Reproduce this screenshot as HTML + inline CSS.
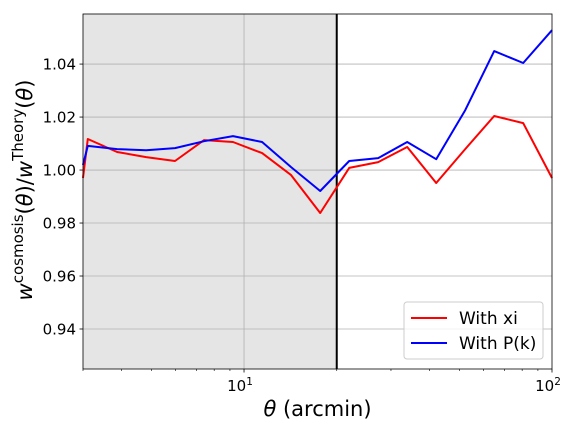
<!DOCTYPE html>
<html><head><meta charset="utf-8"><style>
body{margin:0;background:#fff}
svg text{font-family:"DejaVu Sans","Liberation Sans",sans-serif}
</style></head><body>
<svg id="chart" width="576" height="432" viewBox="0 0 576 432" xmlns="http://www.w3.org/2000/svg">
<g id="plot"></g>
</svg>
<script>
const thetas=[3.0,3.11,3.87,4.81,5.97,7.42,9.21,11.45,14.22,17.67,21.95,27.26,33.86,42.06,52.25,64.9,80.6,100];
const withXi=[0.997,1.0117,1.0068,1.0049,1.0034,1.0113,1.0106,1.0064,0.9981,0.9838,1.0008,1.003,1.0087,0.9951,1.0079,1.0204,1.0177,0.997];
const withPk=[1.0019,1.0091,1.0079,1.0075,1.0083,1.0109,1.0128,1.0106,1.0011,0.9921,1.0034,1.0045,1.0106,1.0041,1.0226,1.0449,1.0404,1.0528];
const yTicks=[0.94,0.96,0.98,1.00,1.02,1.04];
const yTickLabels=["0.94","0.96","0.98","1.00","1.02","1.04"];
const xMajor=[10,100];
const xMinor=[3,4,5,6,7,8,9,20,30,40,50,60,70,80,90];
const cutTheta=20;

const L=83,R=552,T=14,B=369;
const xmin=3,xmax=100,ymin=0.9249,ymax=1.0589;
const X=v=>L+(Math.log10(v)-Math.log10(xmin))/(Math.log10(xmax)-Math.log10(xmin))*(R-L);
const Y=v=>B-(v-ymin)/(ymax-ymin)*(B-T);
const NS="http://www.w3.org/2000/svg";
const g=document.getElementById('plot');
function mk(tag,attrs,parent){const e=document.createElementNS(NS,tag);for(const k in attrs)e.setAttribute(k,attrs[k]);(parent||g).appendChild(e);return e;}

const shade=mk('rect',{x:L,y:T,width:X(cutTheta)-L,height:B-T,fill:'#e5e5e5'});



yTicks.forEach((v,i)=>{
 const gl=mk('line',{x1:L,x2:R,y1:Y(v),y2:Y(v),stroke:'#b0b0b0','stroke-width':0.8});
 
 
 mk('line',{x1:L-3.5,x2:L,y1:Y(v),y2:Y(v),stroke:'#000','stroke-width':0.8});
 const t=mk('text',{x:L-7,y:Y(v)+5.5,'text-anchor':'end','font-size':15});
 t.textContent=yTickLabels[i];
 
 
});
xMajor.forEach(v=>{
 if(v<xmax){const gl=mk('line',{x1:X(v),x2:X(v),y1:T,y2:B,stroke:'#b0b0b0','stroke-width':0.8});
 
 }
 mk('line',{x1:X(v),x2:X(v),y1:B,y2:B+3.5,stroke:'#000','stroke-width':0.8});
 const t=mk('text',{x:X(v)-4,y:B+22,'text-anchor':'middle','font-size':15});
 t.innerHTML='10<tspan dy="-6" font-size="10.5">'+Math.round(Math.log10(v))+'</tspan>';
 
 
});
xMinor.forEach(v=>{mk('line',{x1:X(v),x2:X(v),y1:B,y2:B+2,stroke:'#000','stroke-width':0.6});});

const cut=mk('line',{x1:X(cutTheta),x2:X(cutTheta),y1:T,y2:B,stroke:'#000','stroke-width':2});



function series(vals,color,name){
 const d=thetas.map((t,i)=>(i?'L':'M')+X(t).toFixed(1)+','+Y(vals[i]).toFixed(1)).join('');
 const p=mk('path',{d:d,fill:'none',stroke:color,'stroke-width':2,'stroke-linejoin':'round'});
 
 
}
series(withXi,'#ff0000','line-with-xi');
series(withPk,'#0000ff','line-with-pk');

const frame=mk('rect',{x:L,y:T,width:R-L,height:B-T,fill:'none',stroke:'#000','stroke-width':0.8});



const lg=mk('g',{});


mk('rect',{x:404,y:302,width:139,height:57,rx:3,fill:'#fff','fill-opacity':0.8,stroke:'#ccc'},lg);
[['With xi','#ff0000'],['With P(k)','#0000ff']].forEach((e,i)=>{
 const yy=318+i*25;
 const ln=mk('line',{x1:411,x2:447,y1:yy,y2:yy,stroke:e[1],'stroke-width':2},lg);
 
 
 const t=mk('text',{x:459,y:yy+6,'font-size':17},lg);
 t.textContent=e[0];
 
 
});

const xl=mk('text',{x:(L+R)/2,y:416,'text-anchor':'middle','font-size':21});
xl.innerHTML='<tspan font-style="italic">θ</tspan> (arcmin)';


const yl=mk('text',{x:0,y:0,'text-anchor':'middle','font-size':21,transform:'translate(32,190) rotate(-90)'});
yl.innerHTML='<tspan font-style="italic">w</tspan><tspan dy="-9" font-size="15">cosmosis</tspan><tspan dy="9">(</tspan><tspan font-style="italic">θ</tspan>)/<tspan font-style="italic">w</tspan><tspan dy="-9" font-size="15">Theory</tspan><tspan dy="9">(</tspan><tspan font-style="italic">θ</tspan>)';


</script>
</body></html>
